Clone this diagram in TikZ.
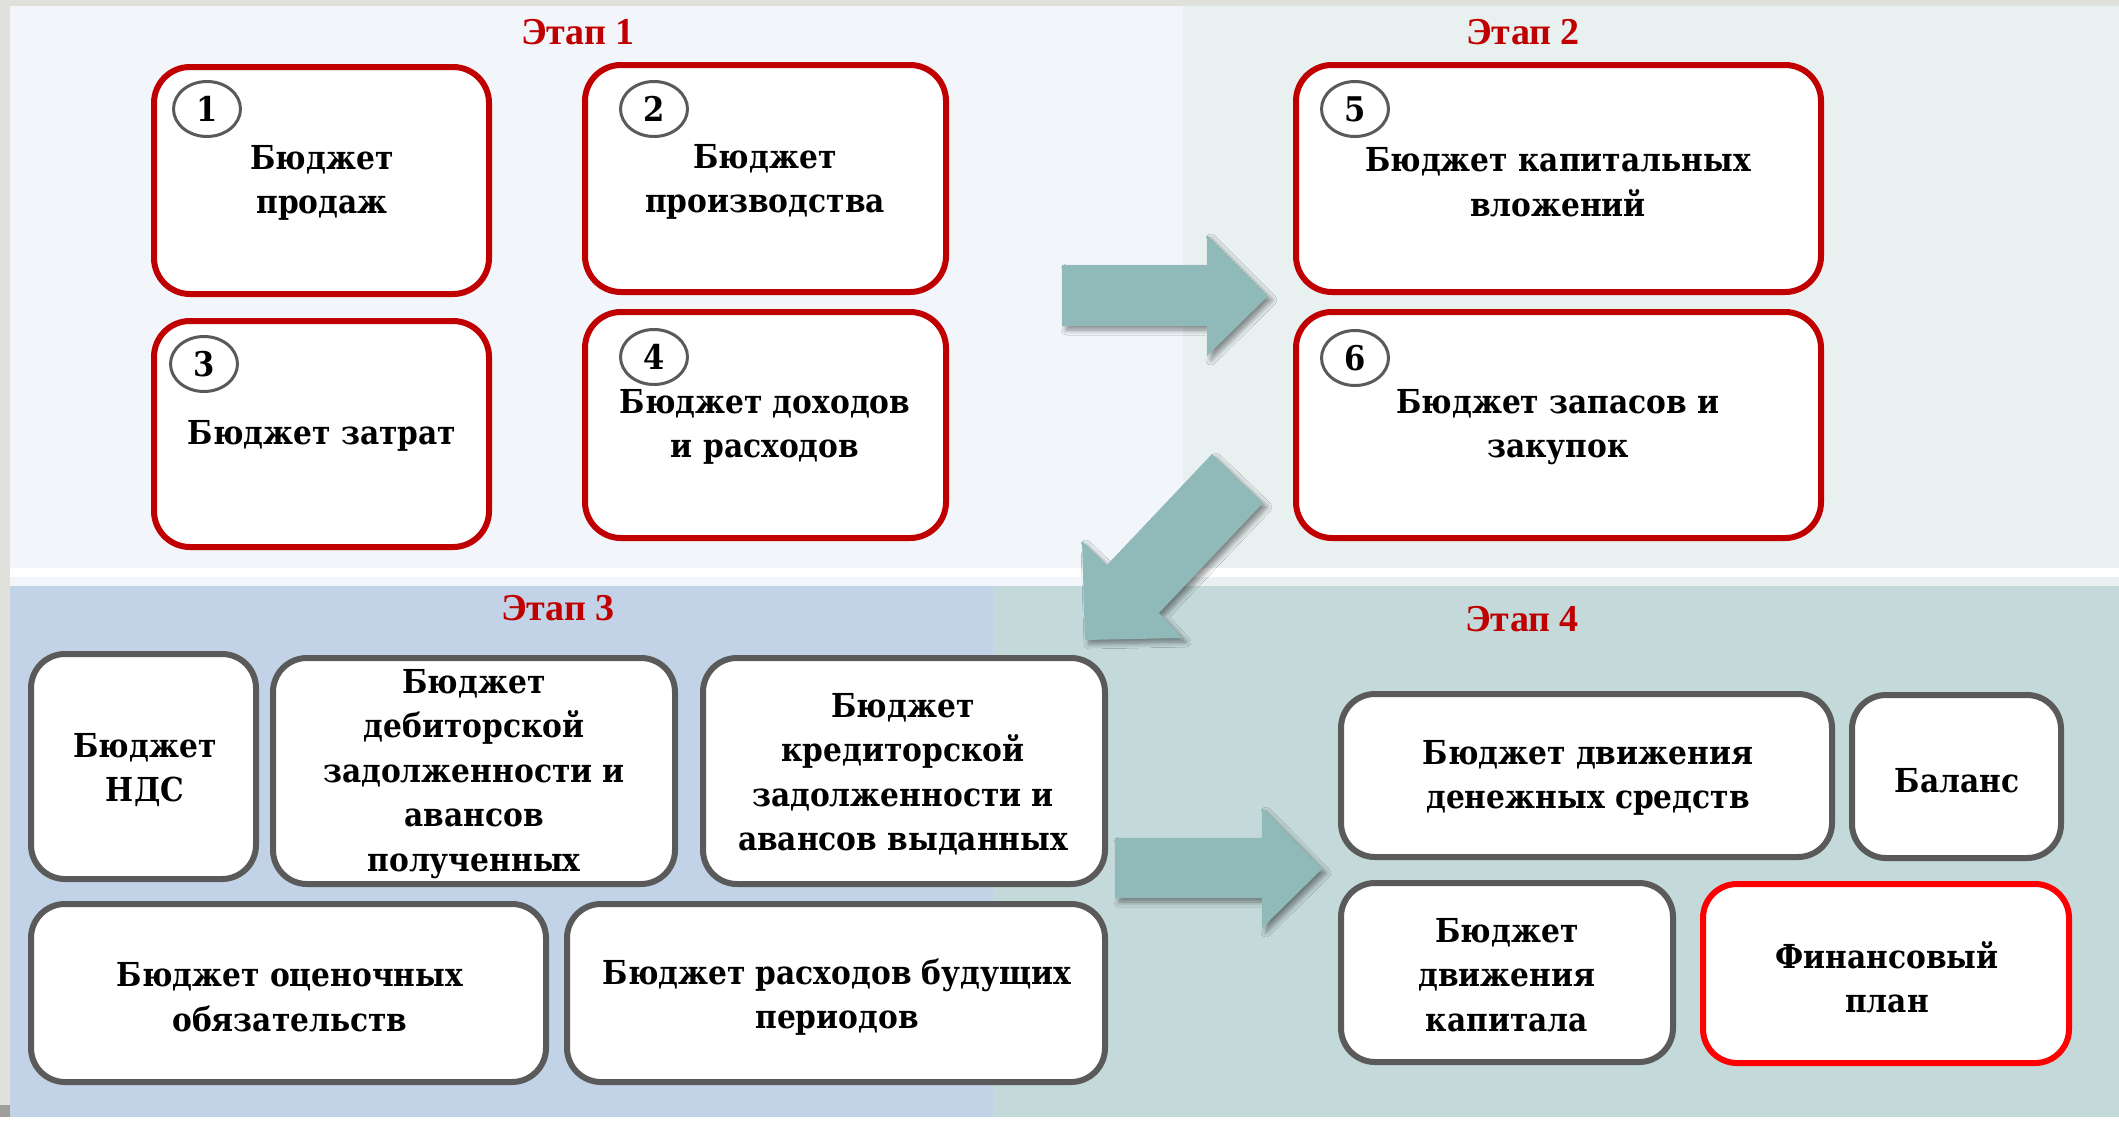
\documentclass[tikz,border=0pt]{standalone}
\usepackage{fontspec}
\usetikzlibrary{shapes.geometric,shadows.blur}
\newfontfamily\boxfnt{DejaVu Serif Condensed}[BoldFont={DejaVu Serif Condensed Bold}]
\newfontfamily\etapfnt{Liberation Serif}
\definecolor{darkred}{HTML}{C00000}
\definecolor{brightred}{HTML}{FF0000}
\definecolor{boxgray}{HTML}{5A5A5A}
\definecolor{pTL}{HTML}{F2F5FA}
\definecolor{pTR}{HTML}{E8F1F0}
\definecolor{pBL}{HTML}{C2D3E8}
\definecolor{pBR}{HTML}{C4D9D9}
\definecolor{edgegray}{HTML}{E1E1DC}
\definecolor{arrowfill}{HTML}{90B9B9}
\tikzset{
  redbox/.style={draw=darkred, line width=6pt, fill=white, rounded corners=36pt, inner sep=0pt},
  graybox/.style={draw=boxgray, line width=6pt, fill=white, rounded corners=34pt, inner sep=0pt},
  finbox/.style={draw=brightred, line width=6pt, fill=white, rounded corners=34pt, inner sep=0pt},
  numcirc/.style={ellipse, draw=boxgray, line width=3pt, fill=white, minimum width=67pt, minimum height=55pt, inner sep=0pt, font=\boxfnt\bfseries\fontsize{34}{40}\selectfont},
  btext/.style={align=center, inner sep=0pt, font=\boxfnt\bfseries\fontsize{33}{44.5}\selectfont},
  etap/.style={text=darkred, inner sep=0pt, font=\etapfnt\bfseries\fontsize{38}{44}\selectfont},
  bigarrow/.style={fill=arrowfill, draw=none, blur shadow={shadow xshift=4pt, shadow yshift=-4pt, shadow blur steps=8, shadow blur radius=5pt, shadow opacity=45}}
}
\begin{document}
\begin{tikzpicture}[x=1pt,y=-1pt]
\useasboundingbox (0,0) rectangle (2119,1127);
% background panels
\fill[edgegray] (0,0) rectangle (2119,1127);
\fill[pTL] (10,6) rectangle (1183,568);
\fill[pTR] (1183,6) rectangle (2119,568);
\fill[white] (10,568) rectangle (2119,577);
\fill[pTL] (10,577) rectangle (1183,586);
\fill[pTR] (1183,577) rectangle (2119,586);
\fill[pBL] (10,586) rectangle (993,1117);
\fill[pBR] (993,586) rectangle (2119,1117);
\fill[white] (0,1117) rectangle (2119,1127);
\fill[edgegray!70!black] (0,1105) rectangle (10,1117);

% stage labels
\node[etap] (e1) at (578,32) {Этап 1};
\node[etap] (e2) at (1523,32) {Этап 2};
\node[etap] (e3) at (558,608) {Этап 3};
\node[etap] (e4) at (1522,619) {Этап 4};

% stage 1 and 2 boxes
\node[redbox, minimum width=335pt, minimum height=227pt] (b1) at (321.5,180.5) {};
\node[redbox, minimum width=361pt, minimum height=227pt] (b2) at (765.5,178.5) {};
\node[redbox, minimum width=335pt, minimum height=226pt] (b3) at (321.5,434) {};
\node[redbox, minimum width=361pt, minimum height=226pt] (b4) at (765.5,425) {};
\node[redbox, minimum width=525pt, minimum height=227pt] (b5) at (1558.5,178.5) {};
\node[redbox, minimum width=525pt, minimum height=226pt] (b6) at (1558.5,425) {};

\node[numcirc] (c1) at (207,109) {1};
\node[numcirc] (c2) at (654,109) {2};
\node[numcirc] (c3) at (204,364) {3};
\node[numcirc] (c4) at (654,357) {4};
\node[numcirc] (c5) at (1355,109) {5};
\node[numcirc] (c6) at (1355,358) {6};

\node[btext] (t1) at (322,183) {Бюджет\\продаж};
\node[btext] (t2) at (765,182) {Бюджет\\производства};
\node[btext] (t3) at (322,436) {Бюджет затрат};
\node[btext] (t4) at (765,427) {Бюджет доходов\\и расходов};
\node[btext] (t5) at (1558,182) {Бюджет капитальных\\вложений};
\node[btext] (t6) at (1558,427) {Бюджет запасов и\\закупок};

% stage 3 boxes
\node[graybox, minimum width=225pt, minimum height=225pt] (bA) at (143.5,766.5) {};
\node[graybox, minimum width=402pt, minimum height=226pt] (bB) at (474,771) {};
\node[graybox, minimum width=402pt, minimum height=226pt] (bC) at (904,771) {};
\node[graybox, minimum width=515pt, minimum height=178pt] (bD) at (288.5,993) {};
\node[graybox, minimum width=538pt, minimum height=178pt] (bE) at (836,993) {};

\node[btext] (tA) at (145,770) {Бюджет\\НДС};
\node[btext] (tB) at (474,774) {Бюджет\\дебиторской\\задолженности и\\авансов\\полученных};
\node[btext] (tC) at (903,774) {Бюджет\\кредиторской\\задолженности и\\авансов выданных};
\node[btext] (tD) at (290,997) {Бюджет оценочных\\обязательств};
\node[btext] (tE) at (837,997) {Бюджет расходов будущих\\периодов};

% stage 4 boxes
\node[graybox, minimum width=491pt, minimum height=163pt] (bF) at (1586.5,775.5) {};
\node[graybox, minimum width=209pt, minimum height=163pt] (bG) at (1956.5,776.5) {};
\node[graybox, minimum width=332pt, minimum height=179pt] (bH) at (1507,972.5) {};
\node[finbox, minimum width=366pt, minimum height=179pt] (bI) at (1886,973.5) {};

\node[btext] (tF) at (1588,778) {Бюджет движения\\денежных средств};
\node[btext] (tG) at (1957,781) {Баланс};
\node[btext] (tH) at (1507,975) {Бюджет\\движения\\капитала};
\node[btext] (tI) at (1887,977) {Финансовый\\план};

% big arrows
\path[bigarrow] (1062,265) -- (1207,265) -- (1207,235) -- (1268,296) -- (1207,356) -- (1207,326) -- (1062,326) -- cycle;
\path[bigarrow] (1212,454) -- (1263,503) -- (1159,613) -- (1182,638) -- (1085,640) -- (1082,541) -- (1107,565) -- cycle;
\path[bigarrow] (1115,838) -- (1262,838) -- (1262,808) -- (1322,869) -- (1262,928) -- (1262,898) -- (1115,898) -- cycle;
\end{tikzpicture}
\end{document}
